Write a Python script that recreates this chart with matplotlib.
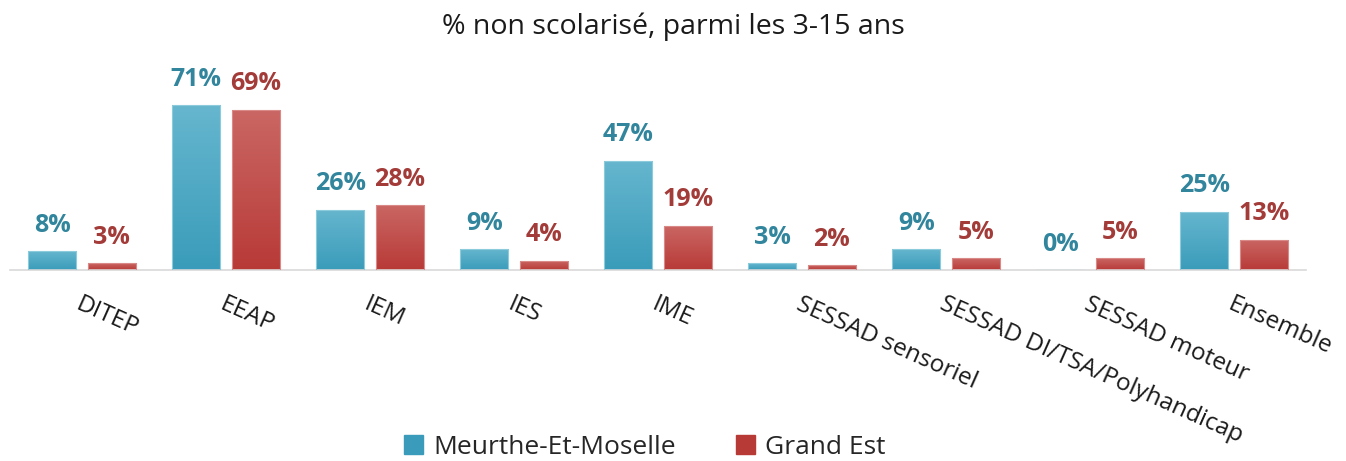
#!/usr/bin/env python3
"""Bar chart: share of children aged 3-15 not in school, by type of facility."""

import matplotlib

matplotlib.use("Agg")

import matplotlib.pyplot as plt
import numpy as np
from matplotlib.colors import LinearSegmentedColormap

plt.rcParams["font.family"] = ["Open Sans", "DejaVu Sans"]

categories = [
    "DITEP",
    "EEAP",
    "IEM",
    "IES",
    "IME",
    "SESSAD sensoriel",
    "SESSAD DI/TSA/Polyhandicap",
    "SESSAD moteur",
    "Ensemble",
]
meurthe = [8, 71, 26, 9, 47, 3, 9, 0, 25]
grand_est = [3, 69, 28, 4, 19, 2, 5, 5, 13]
series_names = ["Meurthe-Et-Moselle", "Grand Est"]

BLUE_TOP, BLUE_BOT, BLUE_TXT = "#66b6ce", "#3a9cba", "#31859c"
RED_TOP, RED_BOT, RED_TXT = "#ca6764", "#b83a37", "#a33b39"


def gradient_bars(ax, bars, top, bottom):
    cmap = LinearSegmentedColormap.from_list("g", [bottom, top])
    grad = np.linspace(0, 1, 256).reshape(-1, 1)
    for bar in bars:
        x, y = bar.get_x(), bar.get_y()
        w, h = bar.get_width(), bar.get_height()
        if h <= 0:
            continue
        im = ax.imshow(grad, cmap=cmap, origin="lower", aspect="auto",
                       extent=(x, x + w, y, y + h), zorder=2)
        im.set_clip_path(bar)


fig = plt.figure(figsize=(13.46, 4.61), dpi=100)
ax = fig.add_axes([10 / 1346, 191 / 461, 1296 / 1346, 209 / 461])

x = np.arange(len(categories))
width = 0.335
offset = 0.207

b1 = ax.bar(x - offset, meurthe, width, color=BLUE_BOT, edgecolor="#8ccbdc",
            linewidth=0.8, label=series_names[0], zorder=1)
b2 = ax.bar(x + offset, grand_est, width, color=RED_BOT, edgecolor="#d98a88",
            linewidth=0.8, label=series_names[1], zorder=1)
gradient_bars(ax, b1, BLUE_TOP, BLUE_BOT)
gradient_bars(ax, b2, RED_TOP, RED_BOT)
for bars in (b1, b2):
    for bar in bars:
        bar.set_facecolor("none")
        bar.set_zorder(3)

for bars, vals, col in ((b1, meurthe, BLUE_TXT), (b2, grand_est, RED_TXT)):
    for bar, v in zip(bars, vals):
        ax.annotate(f"{v}%", (bar.get_x() + bar.get_width() / 2, v),
                    xytext=(0, 14), textcoords="offset points",
                    ha="center", va="baseline", fontsize=18,
                    fontweight="bold", color=col)

ax.set_xlim(-0.5, len(categories) - 0.5)
ax.set_ylim(0, 90)
ax.set_yticks([])
ax.set_xticks(x)
ax.set_xticklabels(categories, rotation=-24, ha="left", va="top",
                   rotation_mode="anchor", fontsize=17.5, color="#1a1a1a")
ax.tick_params(axis="x", length=0, pad=16)
for side in ("top", "right", "left"):
    ax.spines[side].set_visible(False)
ax.spines["bottom"].set_color("#d9d9d9")
ax.spines["bottom"].set_linewidth(1.2)

fig.text(0.5, 1 - 27 / 461, "% non scolarisé, parmi les 3-15 ans",
         ha="center", va="center", fontsize=20.5, color="#1a1a1a")

handles = [plt.Rectangle((0, 0), 1, 1, color=BLUE_BOT),
           plt.Rectangle((0, 0), 1, 1, color=RED_BOT)]
fig.legend(handles, series_names, loc="center", bbox_to_anchor=(645 / 1346, 1 - 447 / 461),
           ncol=2, frameon=False, fontsize=19, handlelength=0.7, handleheight=0.7,
           handletextpad=0.4, columnspacing=2.3, labelcolor="#262626")

fig.savefig("out.png", dpi=100)
